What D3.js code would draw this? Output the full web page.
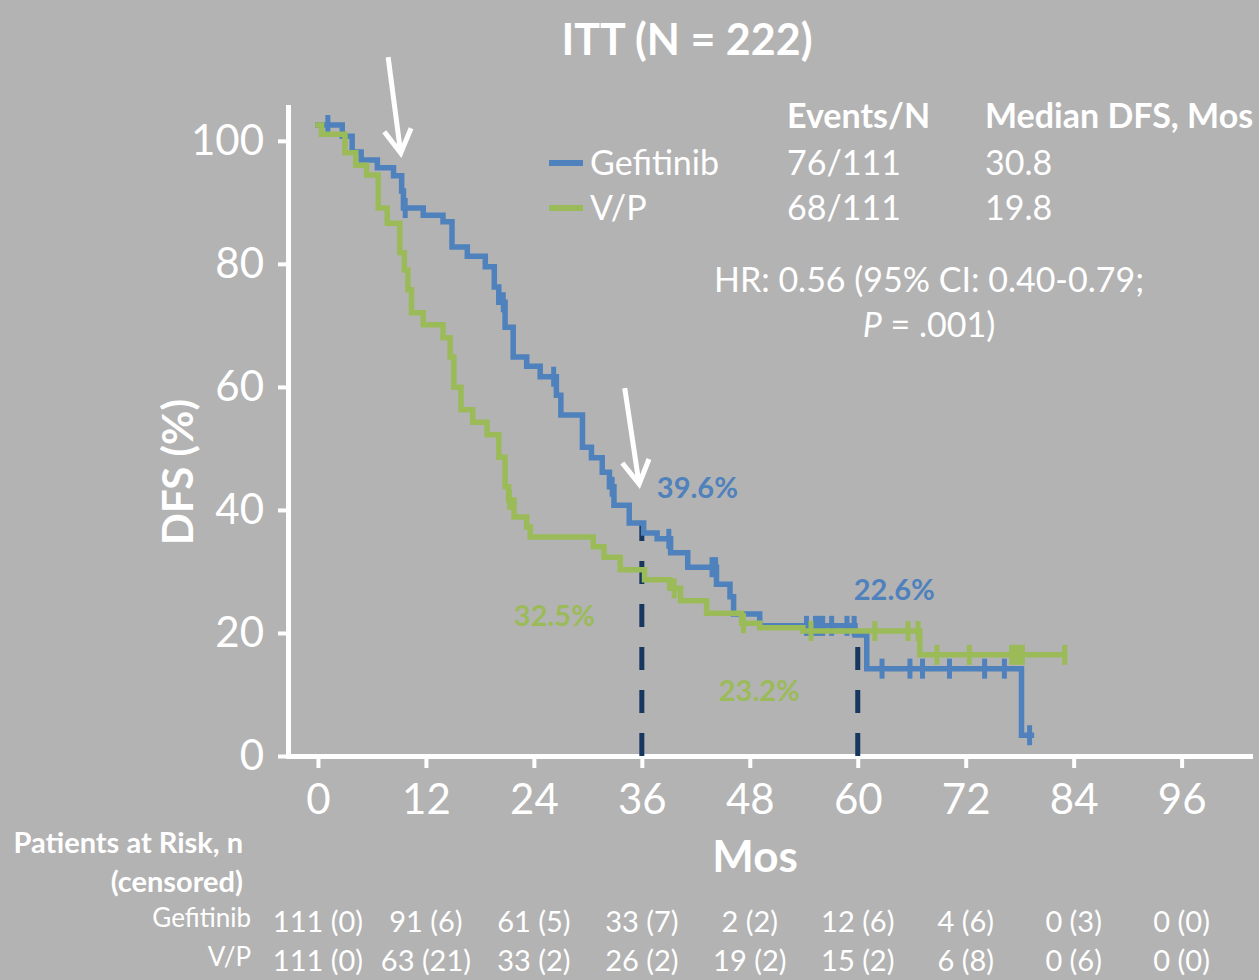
<!DOCTYPE html>
<html>
<head>
<meta charset="utf-8">
<script src="https://cdn.jsdelivr.net/npm/d3@7"></script>
<style>
  html, body { margin: 0; padding: 0; background: #b3b3b3; }
  svg { display: block; }
  text { font-family: Lato, "Open Sans", sans-serif; fill: #ffffff; }
</style>
</head>
<body>
<svg id="chart" width="1259" height="980"></svg>
<script>
// ---- data -------------------------------------------------------------
const monthTicks = [0, 12, 24, 36, 48, 60, 72, 84, 96];
const dfsTicks = [0, 20, 40, 60, 80, 100];

// Gefitinib: time (months) at which each DFS level begins, and the level (%)
const gefTime = [0, 2.7, 3.8, 4.8, 6.6, 8.4, 9.3, 9.5, 11.7, 13.9, 14.9, 16.6, 18.6, 19.6, 20.1, 20.8,
  21.7, 23.2, 24.7, 26.5, 27.0, 29.4, 30.4, 31.6, 32.4, 32.9, 34.6, 36.2, 37.7, 39.2, 41.1, 44.3,
  45.8, 46.2, 49.1, 59.7, 61.0, 78.2];
const gefDfs = [100, 98.3, 95.9, 94.7, 93.5, 92.3, 90.0, 87.4, 86.3, 85.3, 81.5, 80.1, 78.5, 75.4, 73.1, 69.3,
  64.8, 63.4, 61.8, 59.0, 56.0, 51.1, 49.5, 47.3, 45.1, 42.3, 39.6, 38.1, 37.2, 35.1, 32.9, 30.3,
  28.4, 25.8, 24.0, 22.6, 17.5, 7.4];
const gefEnd = 79.3;
const gefCensor = [1.1, 9.7, 20.6, 26.2, 32.7, 39.0, 43.8, 44.2, 54.3, 55.3, 55.7, 56.1, 57.1, 58.8, 59.6,
  62.7, 65.8, 67.2, 70.2, 74.1, 76.3, 79.1];

// Vinorelbine/cisplatin
const vpTime = [0, 0.4, 3.0, 4.2, 5.4, 6.7, 7.7, 9.1, 9.6, 10.0, 10.4, 11.7, 13.9, 14.7, 15.1, 15.9,
  17.2, 18.8, 20.1, 20.8, 21.2, 21.8, 23.2, 23.6, 30.6, 31.8, 33.6, 36.3, 39.1, 40.3, 43.2, 47.1,
  49.1, 53.9, 66.9];
const vpDfs = [100, 98.6, 95.8, 93.9, 92.4, 87.4, 85.1, 80.6, 78.0, 75.0, 71.5, 69.7, 67.7, 64.8, 60.2, 56.8,
  54.9, 53.0, 49.6, 45.1, 43.1, 40.5, 39.0, 37.5, 36.0, 34.4, 32.5, 31.0, 29.7, 27.8, 25.9, 24.4,
  23.7, 23.2, 19.6];
const vpEnd = 83.0;
const vpCensor = [21.3, 39.6, 47.3, 54.8, 61.9, 65.6, 66.7, 68.8, 72.4, 77.1, 77.5, 77.9, 78.3, 83.0];

// landmark DFS estimates at 3 and 5 years
const landmarkMonths = [36, 60];
const landmarkGef = [39.6, 22.6];
const landmarkVP = [32.5, 23.2];

// legend / summary table
const armNames = ["Gefitinib", "V/P"];
const armEvents = ["76/111", "68/111"];
const armMedian = ["30.8", "19.8"];

// numbers at risk (censored)
const riskGef = ["111 (0)", "91 (6)", "61 (5)", "33 (7)", "2 (2)", "12 (6)", "4 (6)", "0 (3)", "0 (0)"];
const riskVP = ["111 (0)", "63 (21)", "33 (2)", "26 (2)", "19 (2)", "15 (2)", "6 (8)", "0 (6)", "0 (0)"];

// call-out arrows, [month, DFS %] in axis units
const arrowFrom = [[7.8, 113.6], [34.1, 59.8]];
const arrowTo = [[9.2, 98.0], [35.7, 44.2]];

// ---- drawing ----------------------------------------------------------
const BLUE = "#4f81bd", GREEN = "#9bbb59", NAVY = "#17375e", BG = "#b3b3b3";
const svg = d3.select("#chart");
svg.append("rect").attr("width", 1259).attr("height", 980).attr("fill", BG);

const x = d3.scaleLinear().domain([-3.33, 103.6]).range([288, 1250]);
const y = d3.scaleLinear().domain([0, 105.5]).range([756, 107]);
// the KM panel has its own vertical frame: 100% at its top edge
const yKM = d3.scaleLinear().domain([0, 100]).range([784, 125]);

// title
svg.append("text").attr("x", 687).attr("y", 55).attr("text-anchor", "middle")
  .attr("font-size", 43).attr("font-weight", 700).text("ITT (N = 222)");

// axes
const yAxis = d3.axisLeft(y).tickValues(dfsTicks).tickSize(10).tickPadding(14).tickSizeOuter(0);
const gy = svg.append("g").attr("transform", "translate(288,0)").call(yAxis);
const xAxis = d3.axisBottom(x).tickValues(monthTicks).tickSize(12).tickPadding(16).tickSizeOuter(0);
const gx = svg.append("g").attr("transform", "translate(0,756)").call(xAxis);
[gx, gy].forEach(g => {
  g.select(".domain").attr("stroke", "#fff").attr("stroke-width", 5).attr("stroke-linecap", "square");
  g.selectAll(".tick line").attr("stroke", "#fff").attr("stroke-width", 4);
  g.selectAll(".tick text").attr("fill", "#fff").attr("font-size", 42)
    .attr("font-family", "Lato, 'Open Sans', sans-serif");
});

svg.append("text").attr("transform", "translate(193,472) rotate(-90)")
  .attr("text-anchor", "middle").attr("font-size", 42).attr("font-weight", 700).text("DFS (%)");
svg.append("text").attr("x", 755).attr("y", 872).attr("text-anchor", "middle")
  .attr("font-size", 44).attr("font-weight", 700).text("Mos");

// step lookup
function valueAt(times, vals, t) {
  const i = d3.bisectRight(times, t) - 1;
  return vals[Math.max(0, i)];
}

// landmark dashed drop lines (from the 3-/5-year estimates down to the axis)
svg.selectAll("line.landmark").data(landmarkMonths).join("line")
  .attr("class", "landmark")
  .attr("x1", d => x(d)).attr("x2", d => x(d))
  .attr("y1", y(0)).attr("y2", (d, i) => yKM(landmarkGef[i]))
  .attr("stroke", NAVY).attr("stroke-width", 5).attr("stroke-dasharray", "23,20");

// curves
const line = d3.line().x(d => x(d[0])).y(d => yKM(d[1])).curve(d3.curveStepAfter);
function drawArm(times, vals, end, censor, color) {
  const pts = times.map((t, i) => [t, vals[i]]);
  pts.push([end, vals[vals.length - 1]]);
  svg.append("path").datum(pts).attr("d", line)
    .attr("fill", "none").attr("stroke", color).attr("stroke-width", 5.5)
    .attr("stroke-linejoin", "miter").attr("stroke-linecap", "square");
  svg.append("g").selectAll("line").data(censor).join("line")
    .attr("x1", d => x(d)).attr("x2", d => x(d))
    .attr("y1", d => yKM(valueAt(times, vals, d)) - 10)
    .attr("y2", d => yKM(valueAt(times, vals, d)) + 10)
    .attr("stroke", color).attr("stroke-width", 5);
}
drawArm(gefTime, gefDfs, gefEnd, gefCensor, BLUE);
drawArm(vpTime, vpDfs, vpEnd, vpCensor, GREEN);

// landmark labels
const lab = svg.append("g").attr("font-size", 29).attr("font-weight", 700);
lab.append("text").attr("x", x(landmarkMonths[0]) + 15).attr("y", yKM(landmarkGef[0]) - 25)
  .style("fill", BLUE).text(landmarkGef[0].toFixed(1) + "%");
lab.append("text").attr("x", x(landmarkMonths[0]) - 128).attr("y", yKM(landmarkVP[0]) + 56)
  .style("fill", GREEN).text(landmarkVP[0].toFixed(1) + "%");
lab.append("text").attr("x", x(landmarkMonths[1]) - 4).attr("y", yKM(landmarkGef[1]) - 35)
  .style("fill", BLUE).text(landmarkGef[1].toFixed(1) + "%");
lab.append("text").attr("x", x(landmarkMonths[1]) - 139).attr("y", yKM(landmarkVP[1]) + 70)
  .style("fill", GREEN).text(landmarkVP[1].toFixed(1) + "%");

// arrows
arrowFrom.forEach((f, i) => {
  const x0 = x(f[0]), y0 = y(f[1]);
  const x1 = x(arrowTo[i][0]), y1 = y(arrowTo[i][1]);
  const ang = Math.atan2(y0 - y1, x0 - x1), L = 27, a = Math.PI / 6;
  const w1 = [x1 + L * Math.cos(ang + a), y1 + L * Math.sin(ang + a)];
  const w2 = [x1 + L * Math.cos(ang - a), y1 + L * Math.sin(ang - a)];
  svg.append("path")
    .attr("d", `M${x0},${y0}L${x1},${y1}M${w1[0]},${w1[1]}L${x1},${y1}L${w2[0]},${w2[1]}`)
    .attr("fill", "none").attr("stroke", "#fff").attr("stroke-width", 5)
    .attr("stroke-linecap", "butt").attr("stroke-linejoin", "miter");
});

// legend with summary table
const lg = svg.append("g").attr("font-size", 34);
lg.append("text").attr("x", 787).attr("y", 128).attr("font-weight", 700).text("Events/N");
lg.append("text").attr("x", 985).attr("y", 128).attr("font-weight", 700).text("Median DFS, Mos");
[BLUE, GREEN].forEach((c, i) => {
  const yy = 163 + i * 45;
  lg.append("line").attr("x1", 549).attr("x2", 583).attr("y1", yy).attr("y2", yy)
    .attr("stroke", c).attr("stroke-width", 6);
  lg.append("text").attr("x", 590).attr("y", yy + 12).text(armNames[i]);
  lg.append("text").attr("x", 787).attr("y", yy + 12).text(armEvents[i]);
  lg.append("text").attr("x", 985).attr("y", yy + 12).text(armMedian[i]);
});
lg.append("text").attr("x", 929).attr("y", 292).attr("text-anchor", "middle")
  .text("HR: 0.56 (95% CI: 0.40-0.79;");
const pLine = lg.append("text").attr("x", 929).attr("y", 337).attr("text-anchor", "middle");
pLine.append("tspan").attr("font-style", "italic").text("P");
pLine.append("tspan").text(" = .001)");

// numbers at risk
const rk = svg.append("g").attr("font-size", 26);
rk.append("text").attr("x", 243).attr("y", 853).attr("text-anchor", "end").attr("font-weight", 700)
  .attr("font-size", 29).text("Patients at Risk, n");
rk.append("text").attr("x", 243).attr("y", 892).attr("text-anchor", "end").attr("font-weight", 700)
  .attr("font-size", 29).text("(censored)");
rk.append("text").attr("x", 251).attr("y", 927).attr("text-anchor", "end").text(armNames[0]);
rk.append("text").attr("x", 251).attr("y", 966).attr("text-anchor", "end").text(armNames[1]);
[riskGef, riskVP].forEach((row, r) => {
  rk.append("g").selectAll("text").data(row).join("text")
    .attr("x", (d, i) => x(monthTicks[i]))
    .attr("y", 932 + r * 39)
    .attr("text-anchor", "middle")
    .attr("font-size", 29)
    .text(d => d);
});
</script>
</body>
</html>
